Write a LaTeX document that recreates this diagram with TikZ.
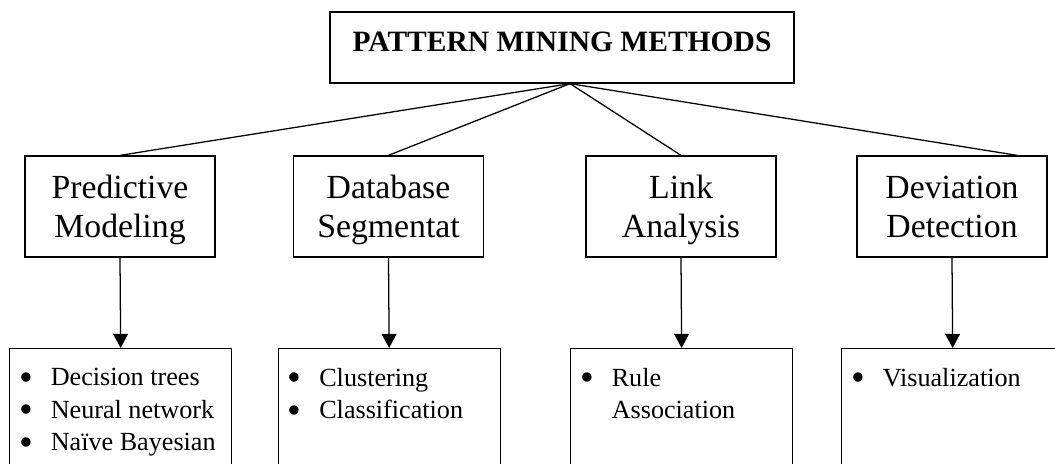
\documentclass[tikz,border=0pt]{standalone}
\usepackage{fontspec}
\setmainfont{Liberation Serif}
\usetikzlibrary{calc,positioning,arrows.meta}
\tikzset{
  >={Triangle[width=10.5pt,length=10pt]},
  topbox/.style={
    rectangle,
    draw=black, line width=0.9pt,
    minimum width=11.6cm,
    minimum height=1.775cm,
    text height=0.5cm, text depth=0.275cm,
    font=\fontsize{21}{25}\selectfont\bfseries},
  methodbox/.style={
    rectangle,
    draw=black, line width=0.9pt,
    minimum width=4.75cm,
    minimum height=2.525cm,
    align=center,
    font=\fontsize{24}{27.7}\selectfont},
  itembox/.style={
    rectangle,
    draw=black, line width=0.9pt,
    anchor=north west,
    minimum width=5.55cm,
    minimum height=3.5cm},
  itemlist/.style={
    anchor=north west,
    inner sep=0pt,
    align=left,
    font=\fontsize{18.6}{23.1}\selectfont},
  branch/.style={draw, line width=0.9pt},
  down/.style={draw, line width=0.9pt, ->},
}
\newcommand{\mstrut}{\rule[-6pt]{0pt}{27.7pt}}
\newcommand{\bulletitem}{\makebox[0.7875cm][l]{\raisebox{-0.17em}[0pt][0pt]{\scalebox{1.5}{\textbullet}}}}

\begin{document}
\begin{tikzpicture}[x=0.025cm, y=-0.025cm]

      \useasboundingbox (0,0) rectangle (1055,464);
      \clip (0,0) rectangle (1055,464);

      \node[topbox] (pmm) at (562,47.5) {PATTERN MINING METHODS};
      \coordinate (apex) at ($(pmm.south)+(8,0)$);

      \node[methodbox] (pred) at (120,206.5) {Predictive\mstrut\\Modeling\mstrut};
      \node[methodbox] (dbseg) at (388.5,206.5) {Database\mstrut\\Segmentat\mstrut};
      \node[methodbox] (linkan) at (681,206.5) {Link\mstrut\\Analysis\mstrut};
      \node[methodbox] (devdet) at (952,206.5) {Deviation\mstrut\\Detection\mstrut};

      \draw[branch] (apex) -- (pred.north);
      \draw[branch] (apex) -- (dbseg.north);
      \draw[branch] (apex) -- (linkan.north);
      \draw[branch] (apex) -- ($(devdet.north east)!0.32!(devdet.north)$);

      \node[itembox] (pred-box) at (9,348) {};
      \node[itembox] (dbseg-box) at (277.5,348) {};
      \node[itembox] (linkan-box) at (570,348) {};
      \node[itembox] (devdet-box) at (841,348) {};

      \node[itemlist] (pred-list) at ($(pred-box.north west)+(10,20)$)
        {\bulletitem Decision trees\\ \bulletitem Neural network\\ \bulletitem Naïve Bayesian};
      \node[itemlist] (dbseg-list) at ($(dbseg-box.north west)+(10,20)$)
        {\bulletitem Clustering\\ \bulletitem Classification};
      \node[itemlist] (linkan-list) at ($(linkan-box.north west)+(10,20)$)
        {\bulletitem Rule\\ \makebox[0.7875cm]{}Association};
      \node[itemlist] (devdet-list) at ($(devdet-box.north west)+(10,20)$)
        {\bulletitem Visualization};

      \draw[down] (pred.south) -- (pred-box.north);
      \draw[down] (dbseg.south) -- (dbseg-box.north);
      \draw[down] (linkan.south) -- (linkan-box.north);
      \draw[down] (devdet.south) -- (devdet-box.north);

\end{tikzpicture}
\end{document}
